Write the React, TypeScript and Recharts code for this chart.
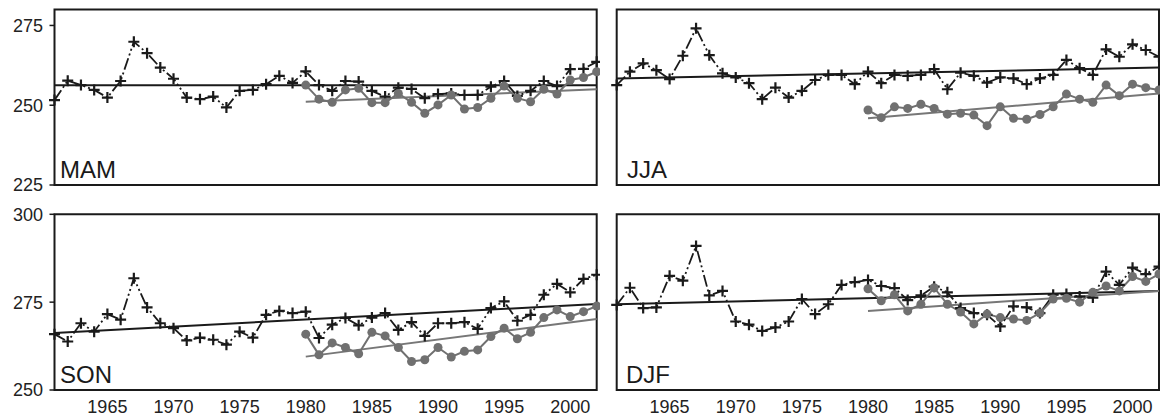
import { Line, LineChart, ReferenceArea, XAxis, YAxis } from 'recharts'

// years 1961–2002, gray (second) series starts in 1980
const YEARS = [
  1961, 1962, 1963, 1964, 1965, 1966, 1967, 1968, 1969, 1970,
  1971, 1972, 1973, 1974, 1975, 1976, 1977, 1978, 1979, 1980,
  1981, 1982, 1983, 1984, 1985, 1986, 1987, 1988, 1989, 1990,
  1991, 1992, 1993, 1994, 1995, 1996, 1997, 1998, 1999, 2000,
  2001, 2002,
]
const GRAY_START = 1980
const X_TICKS = [1965, 1970, 1975, 1980, 1985, 1990, 1995, 2000]
const TOP_Y_TICKS = [225, 250, 275]
const BOTTOM_Y_TICKS = [250, 275, 300]

const MAM_BLACK = [
  251.6, 257.7, 256.3, 254.8, 252.4, 257.6, 269.9, 266.3, 261.8, 258.3,
  252.4, 251.9, 252.7, 249.3, 254.5, 254.8, 256.6, 259.2, 257.0, 260.6,
  256.3, 254.5, 257.6, 257.4, 254.5, 252.7, 255.5, 255.1, 252.2, 253.5,
  253.7, 253.2, 253.2, 255.8, 257.6, 252.9, 254.5, 257.6, 256.0, 261.3,
  261.4, 263.6,
]
const MAM_GRAY = [
  256.3, 251.9, 250.9, 254.8, 255.3, 250.8, 250.8, 253.7, 250.9, 247.5,
  250.1, 253.2, 248.8, 249.3, 252.2, 256.0, 252.2, 251.1, 255.0, 253.5,
  257.9, 258.7, 260.5,
]
const MAM_TREND_BLACK = [256.3, 256.3]
const MAM_TREND_GRAY = [251.1, 255.0]

const JJA_BLACK = [
  256.3, 260.5, 263.1, 261.0, 258.2, 265.5, 274.1, 265.7, 260.0, 258.7,
  256.9, 251.9, 255.5, 252.4, 254.5, 257.9, 259.5, 259.5, 256.6, 260.5,
  256.9, 259.5, 259.2, 259.5, 261.3, 255.0, 260.2, 259.2, 257.1, 258.7,
  258.4, 256.6, 258.4, 259.5, 264.2, 261.6, 259.5, 267.5, 265.2, 269.1,
  267.3, 265.2,
]
const JJA_GRAY = [
  248.5, 246.1, 249.5, 249.0, 250.3, 249.0, 247.2, 247.5, 246.9, 243.6,
  249.5, 245.9, 245.6, 247.1, 249.5, 253.5, 251.9, 250.9, 256.3, 253.0,
  256.6, 255.5, 254.8,
]
const JJA_TREND_BLACK = [258.4, 261.8]
const JJA_TREND_GRAY = [245.9, 253.7]

const SON_BLACK = [
  265.9, 263.8, 269.0, 266.6, 271.6, 270.0, 281.8, 273.5, 269.0, 267.6,
  264.1, 264.9, 264.3, 262.9, 266.6, 264.9, 271.4, 272.5, 271.9, 272.3,
  264.8, 268.6, 270.5, 268.4, 270.6, 271.9, 267.1, 269.3, 265.4, 269.0,
  269.0, 269.3, 267.4, 273.3, 275.2, 269.7, 271.4, 277.1, 280.2, 277.8,
  281.6, 282.8,
]
const SON_GRAY = [
  265.9, 260.0, 263.4, 262.1, 260.3, 266.4, 265.4, 262.1, 258.1, 258.6,
  262.1, 259.4, 261.0, 261.4, 265.2, 267.6, 264.6, 266.4, 270.6, 272.8,
  270.9, 272.3, 273.9,
]
const SON_TREND_BLACK = [266.2, 274.5]
const SON_TREND_GRAY = [259.5, 270.2]

const DJF_BLACK = [
  274.2, 279.1, 273.3, 273.5, 282.5, 281.1, 291.0, 276.9, 278.2, 269.5,
  268.6, 266.8, 267.8, 269.5, 275.9, 271.6, 274.4, 279.9, 280.7, 281.3,
  279.6, 279.0, 275.6, 276.9, 279.4, 277.8, 273.3, 271.9, 271.4, 268.1,
  273.8, 273.5, 271.9, 277.1, 277.3, 276.6, 276.3, 283.7, 279.9, 284.8,
  283.0, 285.1,
]
const DJF_GRAY = [
  278.8, 275.4, 277.1, 272.5, 274.4, 279.1, 274.4, 272.2, 268.8, 271.6,
  270.6, 270.2, 269.8, 271.9, 275.9, 276.1, 275.0, 277.8, 279.6, 278.2,
  282.3, 280.9, 283.0,
]
const DJF_TREND_BLACK = [274.4, 278.2]
const DJF_TREND_GRAY = [272.5, 278.2]

const INK = '#1a1a1a'
const GRAY = '#707070'
const FONT = '"Liberation Sans", Arial, Helvetica, sans-serif'

type Series = {
  black: number[]
  gray: number[]
  trendBlack: number[]
  trendGray: number[]
}

function buildRows({ black, gray, trendBlack, trendGray }: Series) {
  const last = YEARS.length - 1
  const g0 = YEARS.indexOf(GRAY_START)
  return YEARS.map((year, i) => ({
    year,
    black: black[i],
    gray: i >= g0 ? gray[i - g0] : null,
    tb: i === 0 ? trendBlack[0] : i === last ? trendBlack[1] : null,
    tg: i === g0 ? trendGray[0] : i === last ? trendGray[1] : null,
  }))
}

function PlusDot(props: any) {
  const { cx, cy, index } = props
  if (cx == null || cy == null) return <g key={index} />
  return (
    <path
      key={index}
      d={`M${cx - 5.5},${cy}H${cx + 5.5}M${cx},${cy - 5.5}V${cy + 5.5}`}
      stroke={INK}
      strokeWidth={2.2}
      fill="none"
    />
  )
}

type PanelProps = {
  left: number
  top: number
  width: number
  height: number
  margin: { top: number; right: number; bottom: number; left: number }
  domain: [number, number]
  yTicks: number[]
  showY: boolean
  showX: boolean
  series: Series
}

function Panel({ left, top, width, height, margin, domain, yTicks, showY, showX, series }: PanelProps) {
  const rows = buildRows(series)
  return (
    <div style={{ position: 'absolute', left, top, width, height }}>
      <LineChart width={width} height={height} data={rows} margin={margin}>
        <XAxis
          type="number"
          dataKey="year"
          domain={[1961, 2002]}
          ticks={X_TICKS}
          hide={!showX}
          height={26}
          axisLine={false}
          tickLine={false}
          tickSize={0}
          tickMargin={10}
          interval={0}
          tick={{ fill: '#222', fontSize: 18, fontFamily: FONT }}
        />
        <YAxis
          type="number"
          domain={domain}
          ticks={yTicks}
          hide={!showY}
          width={54.5}
          axisLine={false}
          tickSize={5}
          tickMargin={6.5}
          interval={0}
          tickLine={{ stroke: INK, strokeWidth: 1.5 }}
          tick={{ fill: '#222', fontSize: 18, fontFamily: FONT }}
        />
        <ReferenceArea
          x1={1961}
          x2={2002}
          y1={domain[0]}
          y2={domain[1]}
          fill="none"
          stroke={INK}
          strokeWidth={2}
        />
        <Line
          dataKey="tb"
          stroke={INK}
          strokeWidth={2}
          dot={false}
          connectNulls
          isAnimationActive={false}
        />
        <Line
          dataKey="tg"
          stroke="#777"
          strokeWidth={2}
          dot={false}
          connectNulls
          isAnimationActive={false}
        />
        <Line
          dataKey="black"
          stroke={INK}
          strokeWidth={1.8}
          strokeDasharray="12 3 2 3 2 3"
          dot={PlusDot}
          isAnimationActive={false}
        />
        <Line
          dataKey="gray"
          stroke={GRAY}
          strokeWidth={2}
          dot={{ r: 4.5, fill: GRAY, stroke: GRAY, strokeWidth: 0 }}
          isAnimationActive={false}
        />
      </LineChart>
    </div>
  )
}

const LABELS = [
  { text: 'MAM', x: 60, y: 178 },
  { text: 'JJA', x: 627, y: 178 },
  { text: 'SON', x: 60, y: 383 },
  { text: 'DJF', x: 626, y: 383 },
]

export default function App() {
  return (
    <div
      style={{
        position: 'absolute',
        left: 0,
        top: 0,
        width: 1160,
        height: 416,
        background: '#fff',
        overflow: 'hidden',
      }}
    >
      <Panel
        left={0}
        top={0}
        width={600}
        height={200}
        margin={{ top: 9.5, right: 3.3, bottom: 15, left: 0 }}
        domain={[225, 280]}
        yTicks={TOP_Y_TICKS}
        showY
        showX={false}
        series={{ black: MAM_BLACK, gray: MAM_GRAY, trendBlack: MAM_TREND_BLACK, trendGray: MAM_TREND_GRAY }}
      />
      <Panel
        left={600}
        top={0}
        width={560}
        height={200}
        margin={{ top: 9.5, right: 1, bottom: 15, left: 16.7 }}
        domain={[225, 280]}
        yTicks={TOP_Y_TICKS}
        showY={false}
        showX={false}
        series={{ black: JJA_BLACK, gray: JJA_GRAY, trendBlack: JJA_TREND_BLACK, trendGray: JJA_TREND_GRAY }}
      />
      <Panel
        left={0}
        top={200}
        width={600}
        height={216}
        margin={{ top: 14.3, right: 3.3, bottom: 0, left: 0 }}
        domain={[250, 300]}
        yTicks={BOTTOM_Y_TICKS}
        showY
        showX
        series={{ black: SON_BLACK, gray: SON_GRAY, trendBlack: SON_TREND_BLACK, trendGray: SON_TREND_GRAY }}
      />
      <Panel
        left={600}
        top={200}
        width={560}
        height={216}
        margin={{ top: 14.3, right: 1, bottom: 0, left: 16.7 }}
        domain={[250, 300]}
        yTicks={BOTTOM_Y_TICKS}
        showY={false}
        showX
        series={{ black: DJF_BLACK, gray: DJF_GRAY, trendBlack: DJF_TREND_BLACK, trendGray: DJF_TREND_GRAY }}
      />
      <svg
        width={1160}
        height={416}
        style={{ position: 'absolute', left: 0, top: 0, pointerEvents: 'none' }}
      >
        {LABELS.map((l) => (
          <text key={l.text} x={l.x} y={l.y} fontSize={24} fontFamily={FONT} fill={INK}>
            {l.text}
          </text>
        ))}
      </svg>
    </div>
  )
}
